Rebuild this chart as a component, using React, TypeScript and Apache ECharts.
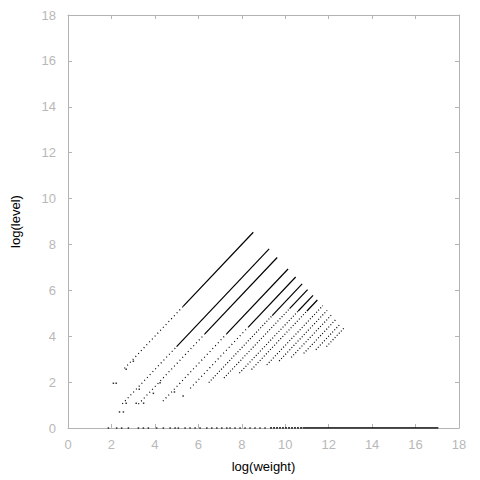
import React, { useEffect, useRef } from "react";
import * as echarts from "echarts";

// log(weight), log(level) pairs for each diagonal band
const diagDotStart: [number, number][] = [
  [2.6, 2.6], [2.5, 1.05], [3.24, 1.04], [4.37, 1.17], [5.63, 1.73],
  [6.48, 1.98], [7.18, 2.18], [7.89, 2.39], [8.45, 2.55], [9.15, 2.75],
  [9.72, 2.92], [10.28, 3.08], [10.85, 3.25], [11.41, 3.41], [11.9, 3.55],
];
const diagSolidStart: ([number, number] | null)[] = [
  [5.3, 5.3], [5.0, 3.55], [6.3, 4.1], [7.3, 4.1], [8.3, 4.4],
  [9.4, 4.9], [10.2, 5.2], [10.6, 5.1], [11.0, 5.1], null,
  null, null, null, null, null,
];
const diagEnd: [number, number][] = [
  [8.53, 8.53], [9.26, 7.81], [9.63, 7.43], [10.13, 6.93], [10.48, 6.58],
  [10.78, 6.28], [11.03, 6.03], [11.28, 5.78], [11.48, 5.58], [11.73, 5.33],
  [11.93, 5.13], [12.13, 4.93], [12.33, 4.73], [12.53, 4.53], [12.7, 4.35],
];

// isolated points (log(weight), log(level))
const loosePoints: [number, number][] = [
  [2.09, 1.95], [2.22, 1.95], [2.37, 0.7], [2.55, 0.7], [2.68, 1.08],
  [3.14, 1.08], [3.48, 1.08], [3.28, 1.69], [3.93, 1.51], [4.24, 1.97],
  [2.68, 2.56], [3.01, 2.91], [4.9, 1.57], [5.3, 1.4],
];

// points lying on log(level) = 0
const zeroRowWeights: number[] = [
  1.86, 2.24, 2.47, 2.78, 3.24, 3.47, 3.7, 4.08, 4.39, 4.7, 4.93, 5.08,
  5.39, 5.62, 5.85, 6.08, 6.39, 6.62, 6.85, 7.08, 7.31, 7.46, 7.69, 7.92,
  8.15, 8.38, 8.61, 8.84, 9.07,
];
const zeroRowDashed: [number, number] = [9.3, 10.8];
const zeroRowSolid: [number, number] = [10.8, 17.05];

export default function App() {
  const ref = useRef<HTMLDivElement>(null);
  useEffect(() => {
    if (!ref.current) return;
    const chart = echarts.init(ref.current, null, { renderer: "svg" });
    const gray = "#b4b4b4";
    const labelColor = "#b8b8b8";
    const font = "'Liberation Sans', Arial, sans-serif";

    const series: any[] = [];
    diagDotStart.forEach((s, i) => {
      const mid = diagSolidStart[i] ?? diagEnd[i];
      series.push({
        type: "line",
        data: [s, mid],
        showSymbol: false,
        silent: true,
        lineStyle: { color: "#000", width: 1.2, type: i < 5 ? [1, 3] : [1, 2] },
      });
      if (diagSolidStart[i]) {
        series.push({
          type: "line",
          data: [diagSolidStart[i], diagEnd[i]],
          showSymbol: false,
          silent: true,
          lineStyle: { color: "#000", width: 1.2 },
        });
      }
    });
    series.push({
      type: "line",
      data: [[zeroRowDashed[0], 0], [zeroRowDashed[1], 0]],
      showSymbol: false,
      lineStyle: { color: "#000", width: 1.5, type: [2, 1] },
    });
    series.push({
      type: "line",
      data: [[zeroRowSolid[0], 0], [zeroRowSolid[1], 0]],
      showSymbol: false,
      lineStyle: { color: "#000", width: 1.5 },
    });
    series.push({
      type: "scatter",
      data: [...loosePoints, ...zeroRowWeights.map((w) => [w, 0])],
      symbol: "rect",
      symbolSize: [1.5, 1.5],
      itemStyle: { color: "#000" },
    });

    const baseAxis = {
      type: "value",
      min: 0,
      max: 18,
      interval: 2,
      splitLine: { show: false },
      axisLine: { show: true, onZero: false, lineStyle: { color: gray, width: 1 } },
      axisTick: { show: true, inside: true, length: 4, lineStyle: { color: gray } },
    };

    chart.setOption({
      animation: false,
      grid: { left: 68, right: 21, top: 15, bottom: 52 },
      xAxis: [
        {
          ...baseAxis,
          position: "bottom",
          name: "log(weight)",
          nameLocation: "middle",
          nameGap: 32,
          nameTextStyle: { color: "#000", fontSize: 13, fontFamily: font },
          axisLabel: { color: labelColor, fontSize: 13, fontFamily: font, margin: 10 },
        },
        { ...baseAxis, position: "top", axisLabel: { show: false } },
      ],
      yAxis: [
        {
          ...baseAxis,
          position: "left",
          name: "log(level)",
          nameLocation: "middle",
          nameGap: 46,
          nameRotate: 90,
          nameTextStyle: { color: "#000", fontSize: 13, fontFamily: font },
          axisLabel: { color: labelColor, fontSize: 13, fontFamily: font, margin: 12 },
        },
        { ...baseAxis, position: "right", axisLabel: { show: false } },
      ],
      series,
    });
    return () => chart.dispose();
  }, []);
  return (
    <div
      ref={ref}
      style={{ position: "fixed", left: 0, top: 0, width: 480, height: 480, background: "#fff" }}
    />
  );
}
